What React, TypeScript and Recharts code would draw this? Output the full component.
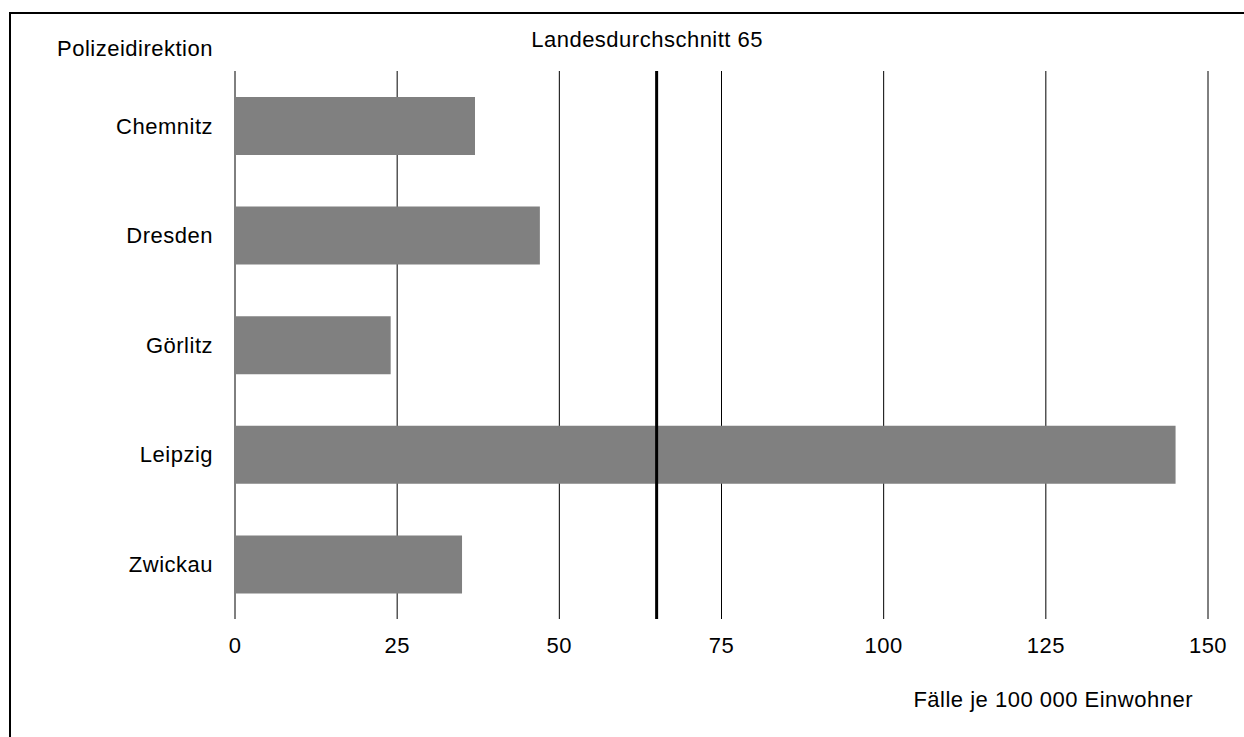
import React from 'react';
import { BarChart, Bar, XAxis, YAxis, CartesianGrid, ReferenceLine } from 'recharts';

const categories = ['Chemnitz', 'Dresden', 'Görlitz', 'Leipzig', 'Zwickau'];
const values = [37, 47, 24, 145, 35];
const xTicks = [0, 25, 50, 75, 100, 125, 150];
const average = 65;
const averageLabel = 'Landesdurchschnitt 65';
const yTitle = 'Polizeidirektion';
const xTitle = 'Fälle je 100 000 Einwohner';

const data = categories.map((name, i) => ({ name, value: values[i] }));

const FONT = '"Liberation Sans", Arial, Helvetica, sans-serif';
const textStyle = { fontFamily: FONT, fontSize: 22, letterSpacing: 0.5, fill: '#000' } as const;

export default function App() {
  return (
    <div
      style={{
        position: 'fixed',
        left: 0,
        top: 0,
        width: 1244,
        height: 737,
        overflow: 'hidden',
        background: '#fff',
      }}
    >
      <div
        style={{
          position: 'absolute',
          left: 9,
          top: 12,
          width: 1300,
          height: 800,
          border: '2px solid #000',
          boxSizing: 'border-box',
        }}
      />
      <div style={{ position: 'absolute', left: 0, top: 0 }}>
        <BarChart
          width={1244}
          height={737}
          data={data}
          layout="vertical"
          margin={{ top: 71, right: 36, bottom: 0, left: 0 }}
          barSize={58}
        >
          <CartesianGrid horizontal={false} vertical={true} stroke="#000" strokeWidth={1} />
          <XAxis
            type="number"
            domain={[0, 150]}
            ticks={xTicks}
            axisLine={false}
            tickLine={false}
            tickSize={0}
            tickMargin={18}
            tick={textStyle}
            interval={0}
            height={118}
            label={{
              content: (props: any) => {
                const vb = props.viewBox || {};
                return (
                  <text x={vb.x + vb.width - 15} y={vb.y + 88} textAnchor="end" style={textStyle}>
                    {xTitle}
                  </text>
                );
              },
            }}
          />
          <YAxis
            type="category"
            dataKey="name"
            width={235}
            axisLine={false}
            tickLine={false}
            tickSize={0}
            tickMargin={22}
            tick={textStyle}
            interval={0}
            label={{
              content: (props: any) => {
                const vb = props.viewBox || {};
                return (
                  <text x={57} y={vb.y - 15} textAnchor="start" style={textStyle}>
                    {yTitle}
                  </text>
                );
              },
            }}
          />
          <Bar dataKey="value" fill="#808080" isAnimationActive={false} />
          <ReferenceLine
            x={average}
            stroke="#000"
            strokeWidth={3}
            label={{
              content: (props: any) => {
                const vb = props.viewBox || {};
                return (
                  <text x={vb.x - 9.5} y={vb.y - 24} textAnchor="middle" style={textStyle}>
                    {averageLabel}
                  </text>
                );
              },
            }}
          />
        </BarChart>
      </div>
    </div>
  );
}
